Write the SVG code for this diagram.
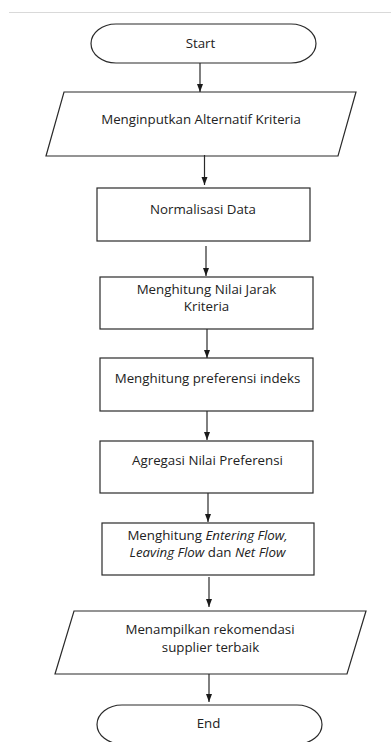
<svg xmlns="http://www.w3.org/2000/svg" width="391" height="742" viewBox="0 0 391 742">
<style>
.shape{fill:#fff;stroke:#2a2a2a;stroke-width:1.2}
.lbl{font-family:"Open Sans","Liberation Sans",sans-serif;font-size:13.3px;fill:#222;text-anchor:middle}
.conn line{stroke:#2a2a2a;stroke-width:1.2}
</style>
<defs>
<marker id="ah" markerUnits="userSpaceOnUse" markerWidth="8" markerHeight="8" viewBox="0 0 8 8" refX="8" refY="4" orient="auto">
<path d="M0,1 L8,4 L0,7 Z" fill="#1a1a1a"/>
</marker>
</defs>
<rect width="391" height="742" fill="#fff"/>
<line x1="9" y1="12.5" x2="391" y2="12.5" stroke="#d9d9d9" stroke-width="1"/>
<g id="start">
<path class="shape" d="M116,24 H291 A25,19.5 0 0 1 291,63 H116 A25,19.5 0 0 1 116,24 Z"/>
<text class="lbl" x="200.5" y="47.5">Start</text>
</g>
<g id="input">
<polygon class="shape" points="64,92 356,92 338,156 46,156"/>
<text class="lbl" x="201" y="123.5">Menginputkan Alternatif Kriteria</text>
</g>
<g id="normalisasi">
<rect class="shape" x="97" y="188" width="213" height="53"/>
<text class="lbl" x="203" y="214">Normalisasi Data</text>
</g>
<g id="jarak">
<rect class="shape" x="100" y="277" width="213" height="52"/>
<text class="lbl" x="206.5" y="294">Menghitung Nilai Jarak</text>
<text class="lbl" x="206.5" y="311">Kriteria</text>
</g>
<g id="preferensi">
<rect class="shape" x="100" y="358" width="213" height="53"/>
<text class="lbl" x="207.5" y="383">Menghitung preferensi indeks</text>
</g>
<g id="agregasi">
<rect class="shape" x="100" y="441" width="213" height="52"/>
<text class="lbl" x="207.5" y="465">Agregasi Nilai Preferensi</text>
</g>
<g id="flow">
<rect class="shape" x="102" y="523" width="212" height="52"/>
<text class="lbl" x="207.5" y="540">Menghitung <tspan font-style="italic">Entering Flow,</tspan></text>
<text class="lbl" x="207.5" y="557"><tspan font-style="italic">Leaving Flow</tspan> dan <tspan font-style="italic">Net Flow</tspan></text>
</g>
<g id="output">
<polygon class="shape" points="74,611 366,611 347,674 55,674"/>
<text class="lbl" x="210" y="634">Menampilkan rekomendasi</text>
<text class="lbl" x="210.5" y="651.5">supplier terbaik</text>
</g>
<g id="end">
<path class="shape" d="M122,705 H297 A25,19.5 0 0 1 297,744 H122 A25,19.5 0 0 1 122,705 Z"/>
<text class="lbl" x="208.5" y="728">End</text>
</g>
<g id="connectors" class="conn">
<line x1="200" y1="63" x2="200" y2="92" marker-end="url(#ah)"/>
<line x1="204.5" y1="155" x2="204.5" y2="185" marker-end="url(#ah)"/>
<line x1="206" y1="246" x2="206" y2="276" marker-end="url(#ah)"/>
<line x1="207" y1="329" x2="207" y2="358" marker-end="url(#ah)"/>
<line x1="207" y1="411" x2="207" y2="440" marker-end="url(#ah)"/>
<line x1="208" y1="493" x2="208" y2="522" marker-end="url(#ah)"/>
<line x1="209" y1="577" x2="209" y2="607" marker-end="url(#ah)"/>
<line x1="209" y1="674" x2="209" y2="702" marker-end="url(#ah)"/>
</g>
</svg>
